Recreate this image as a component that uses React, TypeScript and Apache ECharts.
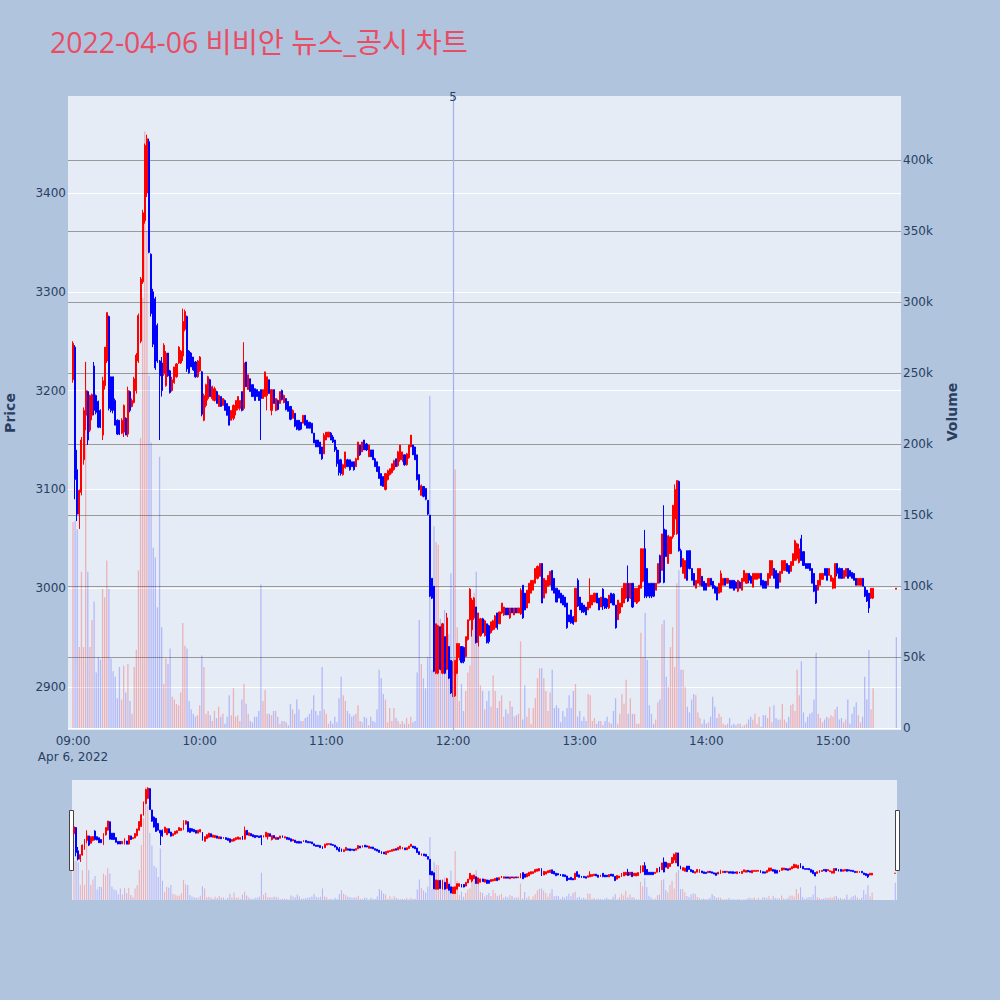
import React, { useEffect, useRef } from "react";
import * as echarts from "echarts";

// ---------- text ----------
const TITLE = "2022-04-06 비비안 뉴스_공시 차트";
const PRICE_NAME = "Price";
const VOLUME_NAME = "Volume";
const hourTicks = [0, 60, 120, 180, 240, 300, 360]; // minutes after 09:00
const hourLabels = ["09:00", "10:00", "11:00", "12:00", "13:00", "14:00", "15:00"];
const dateLabel = "Apr 6, 2022";
const newsMinute = 180;
const newsLabel = "5";

// ---------- 1-minute candles [open, close, low, high] ----------
const candles0900 = [
  [3211,3248,3208,3250],[3244,3110,3090,3246],[3120,3075,3068,3140],[3075,3099,3060,3100],[3097,3150,3094,3153],
  [3130,3180,3125,3183],[3175,3200,3160,3229],[3199,3150,3145,3200],[3160,3195,3158,3196],[3175,3196,3170,3197],
  [3225,3180,3175,3229],[3195,3178,3176,3196],[3189,3163,3162,3190],[3180,3163,3162,3181],[3155,3210,3150,3214],
  [3205,3244,3201,3244],[3230,3279,3228,3279],[3275,3182,3180,3276],[3214,3180,3178,3214],[3214,3180,3177,3214],
  [3190,3165,3165,3192],[3170,3156,3155,3171],[3170,3156,3155,3170],[3157,3170,3156,3172],[3158,3185,3153,3186],
  [3172,3155,3155,3173],[3156,3200,3153,3204],[3199,3180,3178,3200],[3184,3190,3183,3192],[3188,3212,3187,3214],
  [3200,3236,3197,3238],[3230,3276,3228,3278],[3250,3313,3248,3315],[3310,3380,3308,3383],[3372,3448,3369,3450],
  [3400,3455,3396,3459],[3452,3340,3339,3455],[3338,3278,3275,3339],[3300,3247,3244,3303],[3293,3223,3221,3295],
  [3266,3230,3228,3268],[3230,3215,3150,3231],[3228,3200,3194,3234],[3217,3246,3215,3248],[3205,3238,3204,3240],
  [3238,3215,3214,3238],[3220,3198,3197,3221],[3200,3211,3199,3214],[3208,3224,3207,3224],[3214,3227,3213,3228],
  [3228,3244,3227,3245],[3228,3240,3227,3241],[3235,3270,3230,3283],[3262,3280,3260,3282],[3275,3222,3219,3276],
  [3240,3218,3217,3241],[3238,3224,3224,3239],[3234,3221,3220,3234],[3229,3214,3213,3230],[3214,3230,3213,3231],
];
const candles1000 = [
  [3220,3234,3219,3235],[3219,3176,3174,3220],[3170,3195,3169,3197],[3185,3206,3183,3207],[3192,3214,3190,3215],
  [3211,3194,3194,3212],[3192,3204,3190,3205],[3190,3202,3189,3204],[3199,3187,3187,3200],[3184,3195,3184,3196],
  [3194,3184,3184,3194],[3185,3192,3185,3192],[3190,3180,3180,3191],[3187,3175,3175,3187],[3184,3165,3165,3184],
  [3170,3180,3170,3180],[3172,3185,3170,3186],[3180,3190,3175,3190],[3182,3194,3180,3194],[3182,3190,3180,3190],
  [3199,3180,3179,3199],[3182,3228,3180,3249],[3229,3204,3204,3229],[3201,3216,3201,3216],[3212,3199,3199,3212],
  [3206,3194,3194,3206],[3202,3190,3190,3202],[3201,3194,3194,3201],[3199,3190,3190,3199],[3201,3192,3150,3201],
  [3192,3201,3192,3201],[3194,3219,3194,3219],[3195,3214,3180,3214],[3211,3197,3197,3211],[3180,3201,3175,3201],
  [3201,3187,3187,3201],[3180,3192,3179,3192],[3190,3181,3180,3191],[3187,3199,3187,3199],[3200,3191,3190,3201],
  [3188,3195,3187,3196],[3192,3181,3180,3192],[3189,3179,3179,3189],[3184,3171,3170,3184],[3172,3180,3172,3181],
  [3177,3164,3163,3177],[3170,3161,3160,3170],[3170,3160,3160,3170],[3168,3161,3160,3168],[3167,3175,3167,3175],
  [3175,3165,3165,3175],[3170,3162,3162,3170],[3168,3162,3162,3168],[3167,3157,3157,3167],[3157,3147,3147,3157],
  [3150,3143,3143,3150],[3150,3143,3143,3150],[3148,3136,3136,3148],[3143,3131,3130,3143],[3136,3155,3136,3157],
];
const candles1100 = [
  [3150,3158,3150,3158],[3153,3158,3153,3158],[3157,3150,3150,3158],[3153,3148,3147,3155],[3150,3140,3138,3150],
  [3140,3126,3123,3143],[3130,3117,3114,3140],[3130,3116,3114,3131],[3115,3125,3114,3126],[3122,3138,3121,3138],
  [3130,3123,3123,3131],[3130,3120,3119,3130],[3128,3123,3123,3128],[3128,3120,3119,3128],[3123,3131,3123,3132],
  [3130,3148,3130,3148],[3145,3135,3134,3145],[3138,3148,3138,3148],[3150,3140,3140,3150],[3146,3140,3139,3147],
  [3133,3145,3133,3145],[3140,3133,3133,3140],[3140,3130,3130,3140],[3131,3123,3123,3132],[3128,3118,3118,3128],
  [3123,3111,3111,3123],[3116,3104,3104,3116],[3113,3103,3103,3113],[3100,3116,3099,3116],[3110,3119,3109,3120],
  [3115,3121,3114,3121],[3117,3126,3116,3126],[3120,3129,3119,3130],[3131,3123,3123,3131],[3124,3138,3123,3139],
  [3130,3145,3128,3145],[3130,3138,3128,3138],[3135,3125,3124,3135],[3125,3136,3124,3137],[3132,3145,3131,3145],
  [3143,3155,3143,3155],[3145,3135,3135,3145],[3143,3130,3130,3143],[3135,3110,3109,3135],[3115,3100,3099,3115],
  [3094,3104,3094,3105],[3103,3093,3092,3103],[3101,3090,3089,3101],[3089,3075,3074,3089],[3074,2992,2991,3074],
  [3010,2990,2989,3010],[3002,2916,2915,3002],[2914,2964,2913,2964],[2914,2962,2913,2963],[2961,2918,2917,2961],
  [2914,2964,2913,2965],[2951,2914,2913,2951],[2918,2970,2917,2975],[2941,2909,2908,2941],[2927,2894,2893,2927],
];
const candles1200 = [
  [2891,2926,2890,2926],[2891,2927,2890,2927],[2914,2944,2913,2944],[2930,2944,2927,2944],[2941,2925,2924,2941],
  [2940,2926,2924,2941],[2931,2951,2930,2951],[2948,2968,2947,2968],[2968,2999,2967,3000],[2958,2988,2951,2990],
  [2970,2990,2968,2991],[2981,2945,2944,2981],[2945,2975,2941,2975],[2952,2969,2951,2970],[2969,2955,2954,2970],
  [2952,2967,2951,2968],[2964,2945,2944,2964],[2962,2946,2944,2963],[2955,2966,2954,2966],[2958,2967,2957,2968],
  [2960,2972,2958,2973],[2975,2960,2958,2975],[2964,2976,2964,2976],[2975,2985,2974,2985],[2973,2981,2972,2981],
  [2980,2973,2973,2980],[2980,2973,2973,2980],[2970,2980,2969,2980],[2980,2975,2975,2980],[2973,2980,2973,2980],
  [2980,2975,2975,2980],[2975,2980,2975,2980],[2974,2998,2973,3000],[3003,2970,2969,3003],[2995,2978,2978,2995],
  [2980,2998,2980,2998],[2985,3005,2985,3005],[2995,3008,2995,3008],[2998,3008,2998,3008],[3005,3020,3005,3020],
  [3010,3022,3009,3023],[3012,3025,3012,3025],[3025,2985,2985,3025],[2990,3010,2990,3010],[2995,3008,2995,3008],
  [3002,3013,3002,3013],[3003,3017,3003,3017],[3018,2998,2998,3018],[3010,2995,2995,3010],[3000,2986,2986,3000],
  [2998,2990,2990,2998],[2995,2985,2985,2995],[2993,2983,2983,2993],[2991,2981,2981,2991],[2985,2960,2959,2985],
  [2973,2966,2966,2973],[2978,2965,2964,2978],[2971,2964,2963,2972],[2966,3000,2966,3000],[3008,2982,2981,3010],
];
const candles1300 = [
  [2991,2978,2978,2991],[2985,2976,2975,2985],[2983,2976,2975,2983],[2981,2973,2973,2981],[2978,2986,2978,2986],
  [2980,2993,2980,3010],[2983,2993,2983,2993],[2986,2995,2986,2995],[2995,2985,2985,2995],[2990,2978,2978,2990],
  [2981,2991,2981,2991],[2999,2982,2978,3000],[2990,2980,2979,2990],[2989,2981,2979,2990],[2980,2993,2979,2993],
  [2995,2985,2985,2995],[2994,2983,2983,2995],[2983,2960,2959,2983],[2968,2988,2968,2988],[2975,2985,2974,2985],
  [2981,3000,2981,3000],[2985,3005,2985,3005],[2990,3005,2989,3005],[3005,2987,2986,3023],[2990,3005,2989,3005],
  [3005,2981,2980,3005],[2986,3000,2986,3000],[2985,3000,2984,3000],[2987,3003,2986,3003],[3000,3040,3000,3040],
  [3007,3040,3006,3040],[3040,2992,2990,3059],[3020,2992,2990,3020],[3005,2992,2990,3005],[3005,2992,2990,3005],
  [3005,2992,2991,3005],[2998,3005,2998,3005],[3005,3025,3005,3025],[3033,3006,3005,3034],[3018,3055,3018,3055],
  [3060,3006,3005,3084],[3059,3032,3032,3059],[3025,3053,3025,3054],[3035,3052,3035,3052],[3052,3084,3050,3084],
  [3070,3100,3054,3105],[3055,3109,3054,3109],[3108,3038,3037,3109],[3038,3022,3021,3040],[3015,3030,3015,3030],
  [3010,3028,3010,3028],[3038,3008,3008,3038],[3038,3020,3019,3038],[3020,3008,3008,3020],[3015,3003,3003,3015],
  [3000,3008,3000,3008],[3005,3020,3005,3020],[3003,3020,3003,3020],[3012,3002,3002,3012],[3007,2998,2998,3007],
];
const candles1400 = [
  [3005,2998,2998,3005],[3002,3010,3002,3010],[3010,3003,3003,3010],[3007,3000,2999,3007],[3002,2995,2995,3003],
  [3001,2988,2988,3001],[2995,3005,2995,3005],[2996,3015,2996,3018],[3003,3010,3003,3010],[3010,3003,3003,3010],
  [3005,3010,3005,3010],[3008,3000,3000,3008],[3008,3000,3000,3008],[3008,2998,2998,3008],[3006,3000,3000,3007],
  [2997,3008,2996,3008],[3006,3000,3000,3007],[2998,3010,2998,3010],[3007,3018,3007,3018],[3005,3015,3005,3015],
  [3015,3008,3005,3015],[3012,3005,3005,3013],[3001,3015,3001,3015],[3009,3015,3009,3015],[3009,3015,3009,3015],
  [3010,3015,3010,3015],[3015,3003,3003,3015],[3008,3000,3000,3008],[3007,3000,3000,3007],[3003,3015,3003,3015],
  [3010,3028,3010,3028],[3013,3028,3013,3028],[3020,3010,3010,3020],[3018,3000,3000,3018],[3015,3000,3000,3015],
  [3006,3017,3006,3017],[3015,3028,3015,3028],[3018,3028,3018,3028],[3025,3017,3017,3025],[3023,3015,3015,3023],
  [3017,3027,3017,3027],[3023,3035,3023,3035],[3028,3048,3028,3049],[3030,3045,3028,3046],[3026,3040,3025,3045],
  [3050,3028,3028,3054],[3037,3023,3023,3037],[3025,3020,3020,3025],[3025,3020,3020,3025],[3025,3018,3018,3025],
  [3020,3005,3005,3020],[3015,2997,2996,3015],[3003,2985,2984,3003],[2998,3008,2998,3008],[3003,3015,3003,3015],
  [3009,3015,3009,3015],[3020,3013,3013,3020],[3020,3008,3008,3020],[3013,3020,3013,3020],[3007,3013,3007,3013],
];
const candles1500 = [
  [3000,3010,2999,3011],[3000,3025,3000,3025],[3025,3015,3012,3025],[3020,3010,3010,3021],[3020,3010,3010,3020],
  [3010,3018,3010,3018],[3012,3020,3012,3020],[3020,3010,3010,3020],[3018,3012,3012,3018],[3016,3010,3010,3016],
  [3015,3008,3008,3015],[3010,3003,3003,3010],[3003,3010,3003,3010],[3003,3010,3003,3010],[3010,3002,3002,3010],
  [3001,2992,2991,3002],[2998,2987,2986,2998],[2995,2980,2975,2995],[2990,3000,2989,3000],[2990,3000,2989,3000],
];
const closingAuctionMinute = 390; // 15:30
const closingAuction = [2999, 3000, 2999, 3000];

// ---------- volume per minute, thousands of shares ----------
const volume0900 = [145,146,140,57,110,57,258,110,57,76, 89,39,50,48,98,92,118,98,49,40, 36,21,43,20,44,25,45,19,10,43,
  55,111,204,303,420,350,248,201,127,120, 85,191,71,31,49,45,56,22,20,17, 16,25,74,58,56,19,13,10,8,9];
const volume1000 = [16,51,43,10,12,9,5,12,7,15, 8,10,3,8,23,9,28,8,9,5, 20,31,17,10,5,4,8,8,12,101,
  19,27,10,10,9,12,12,8,3,5, 5,4,2,17,13,10,20,13,5,5, 7,8,10,13,23,12,9,12,43,13];
const volume1100 = [10,3,5,3,8,4,21,36,23,19, 12,10,8,9,10,16,5,4,8,7, 2,8,5,4,13,41,35,24,20,4,
  14,5,14,7,5,3,5,3,7,3, 8,4,5,39,76,45,35,28,50,234, 41,142,131,129,77,48,83,49,66,109];
const volume1200 = [43,182,71,19,31,12,26,39,44,74, 95,110,64,30,26,13,19,26,15,37, 26,14,19,23,8,13,10,19,15,8,
  9,10,61,6,30,8,14,3,14,21, 35,42,42,35,26,12,25,41,14,16, 14,4,12,8,14,23,14,26,31,8];
const volume1300 = [12,5,8,5,24,23,5,7,3,5, 5,2,5,8,4,3,12,21,3,10, 24,17,34,10,21,10,10,3,3,67,
  50,81,48,16,10,3,6,18,20,73, 76,36,29,57,71,43,102,111,41,41, 29,15,11,20,24,23,11,7,3,6];
const volume1400 = [3,4,8,22,15,7,10,8,3,2, 3,7,2,3,2,3,3,1,2,3, 6,8,6,10,3,8,1,9,9,7,
  15,4,16,7,6,6,17,6,4,8, 16,17,12,41,23,47,11,4,8,10, 11,20,53,10,7,4,6,8,7,9];
const volume1500 = [8,13,15,6,7,4,6,20,3,10, 15,18,9,4,8,36,20,55,13,28];
const closingVolume = 64;

// ---------- axis tick values ----------
const volumeTicks = [0, 50, 100, 150, 200, 250, 300, 350, 400]; // thousands
const priceTicks = [2900, 3000, 3100, 3200, 3300, 3400];

const UP = "#ff0000";
const DOWN = "#0000ff";
const UP_VOL = "rgba(255,0,0,0.25)";
const DOWN_VOL = "rgba(0,0,255,0.22)";
const INK = "#2a3f5f";
const AXIS_FONT = "'DejaVu Sans', Verdana, sans-serif";
const TITLE_FONT = "'Open Sans', 'Noto Sans CJK KR', sans-serif";

function buildData() {
  const hours = [candles0900, candles1000, candles1100, candles1200, candles1300, candles1400, candles1500];
  const vols = [volume0900, volume1000, volume1100, volume1200, volume1300, volume1400, volume1500];
  const candles: any[] = [];
  const volumes: any[] = [];
  hours.forEach((arr, h) => {
    arr.forEach((c, i) => {
      const m = h * 60 + i;
      candles.push([m, c[0], c[1], c[2], c[3]]);
      const up = c[1] >= c[0];
      volumes.push({ value: [m, vols[h][i] * 1000], itemStyle: { color: up ? UP_VOL : DOWN_VOL } });
    });
  });
  candles.push([closingAuctionMinute, ...closingAuction]);
  volumes.push({ value: [closingAuctionMinute, closingVolume * 1000], itemStyle: { color: DOWN_VOL } });
  return { candles, volumes };
}

export default function App() {
  const ref = useRef<HTMLDivElement>(null);
  useEffect(() => {
    if (!ref.current) return;
    const chart = echarts.init(ref.current, undefined, { renderer: "svg" });
    const { candles, volumes } = buildData();
    const priceMin = 2856.5;
    const priceMax = 3498.2;
    const volMax = 445000;
    const gridCommon = { containLabel: false, outerBoundsMode: "none", borderWidth: 0 };
    const option: any = {
      animation: false,
      backgroundColor: "#b0c4de",
      textStyle: { fontFamily: AXIS_FONT },
      title: {
        text: TITLE,
        left: 45,
        top: 23,
        textStyle: { color: "#ea4c64", fontSize: 28.4, fontWeight: "normal", fontFamily: TITLE_FONT },
      },
      grid: [
        { ...gridCommon, left: 68, top: 96, width: 833, height: 634, show: true, backgroundColor: "#e5ecf6" },
        { ...gridCommon, left: 68, top: 96, width: 833, height: 632, show: false },
        { ...gridCommon, left: 72, top: 780, width: 825, height: 120, show: true, backgroundColor: "#e5ecf6" },
      ],
      xAxis: [
        {
          type: "value", gridIndex: 0, min: -2.37, max: 392.2,
          axisLine: { show: false }, axisTick: { show: false }, splitLine: { show: false },
          axisLabel: {
            customValues: hourTicks,
            color: INK, fontSize: 12, margin: 3, lineHeight: 16, fontFamily: AXIS_FONT,
            formatter: (v: number) => {
              const i = hourTicks.indexOf(Math.round(v));
              const t = i >= 0 ? hourLabels[i] : "";
              return i === 0 ? t + "\n" + dateLabel : t;
            },
          },
        },
        { type: "value", gridIndex: 1, min: -2.37, max: 392.2, show: false },
        { type: "value", gridIndex: 2, min: -0.95, max: 390.8, show: false },
      ],
      yAxis: [
        {
          type: "value", gridIndex: 0, position: "left", min: priceMin, max: priceMax, splitNumber: 6,
          name: PRICE_NAME, nameLocation: "middle", nameGap: 51,
          nameTextStyle: { color: INK, fontSize: 14, fontWeight: "bold", fontFamily: AXIS_FONT },
          axisLine: { show: false }, axisTick: { show: false },
          axisLabel: {
            color: INK, fontSize: 12, margin: 2, customValues: priceTicks, fontFamily: AXIS_FONT,
            formatter: (v: number) => String(Math.round(v)),
          },
          splitLine: { show: true, showMinLine: false, showMaxLine: false, lineStyle: { color: "#ffffff", width: 1 } },
        },
        {
          type: "value", gridIndex: 1, position: "right", min: 0, max: volMax, interval: 50000,
          name: VOLUME_NAME, nameLocation: "middle", nameGap: 44,
          nameTextStyle: { color: INK, fontSize: 14, fontWeight: "bold", fontFamily: AXIS_FONT },
          axisLine: { show: false }, axisTick: { show: false },
          axisLabel: {
            color: INK, fontSize: 12, margin: 2, fontFamily: AXIS_FONT,
            customValues: volumeTicks.map((v) => v * 1000),
            formatter: (v: number) => (v === 0 ? "0" : Math.round(v / 1000) + "k"),
          },
          splitLine: {
            show: true, showMaxLine: false,
            lineStyle: { color: ["#ffffff", "#9a9a9a", "#9a9a9a", "#9a9a9a", "#9a9a9a", "#9a9a9a", "#9a9a9a", "#9a9a9a", "#9a9a9a", "#9a9a9a"], width: 1 },
          },
        },
        { type: "value", gridIndex: 2, min: priceMin, max: priceMax, show: false },
        { type: "value", gridIndex: 2, min: 0, max: volMax, show: false },
      ],
      series: [
        {
          type: "bar", name: "Volume", xAxisIndex: 1, yAxisIndex: 1, data: volumes, barWidth: 1.3, z: 1,
        },
        {
          type: "candlestick", name: "Price", xAxisIndex: 0, yAxisIndex: 0, data: candles, barWidth: 1.6, z: 2,
          itemStyle: { color: UP, color0: DOWN, borderColor: UP, borderColor0: DOWN, borderWidth: 1 },
          markLine: {
            silent: true, symbol: ["none", "none"], z: 3,
            lineStyle: { color: "#a4aef0", width: 1.2, type: "solid", opacity: 1 },
            emphasis: { disabled: true },
            label: { show: true, position: "end", formatter: newsLabel, color: INK, fontSize: 12, distance: -7, fontFamily: AXIS_FONT },
            data: [{ xAxis: newsMinute, lineStyle: { color: "#a4aef0" } }],
          },
        },
        {
          type: "bar", name: "VolumeMini", xAxisIndex: 2, yAxisIndex: 3, data: volumes, barWidth: 1.1, z: 1,
        },
        {
          type: "candlestick", name: "PriceMini", xAxisIndex: 2, yAxisIndex: 2, data: candles, barWidth: 1.4, z: 2,
          itemStyle: { color: UP, color0: DOWN, borderColor: UP, borderColor0: DOWN, borderWidth: 1 },
        },
      ],
      graphic: [
        { type: "rect", left: 69, top: 810, shape: { x: 0, y: 0, width: 4, height: 60 }, style: { fill: "#ffffff", stroke: "#444444", lineWidth: 1 } },
        { type: "rect", left: 895, top: 810, shape: { x: 0, y: 0, width: 4, height: 60 }, style: { fill: "#ffffff", stroke: "#444444", lineWidth: 1 } },
      ],
    };
    chart.setOption(option);
    return () => chart.dispose();
  }, []);
  return <div ref={ref} style={{ position: "fixed", left: 0, top: 0, width: 1000, height: 1000 }} />;
}
